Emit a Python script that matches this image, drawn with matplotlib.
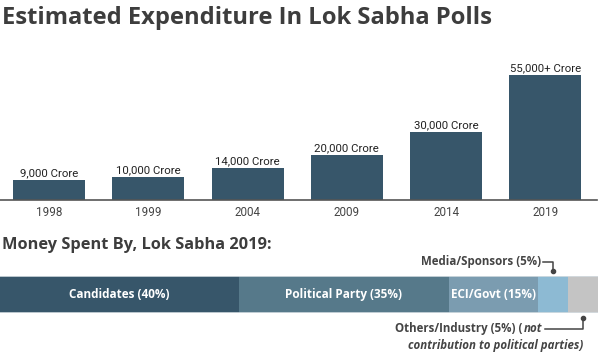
import matplotlib
matplotlib.use("Agg")
import matplotlib.pyplot as plt

# Data
years = ["1998", "1999", "2004", "2009", "2014", "2019"]
spend = [9000, 10000, 14000, 20000, 30000, 55000]
spend_labels = ["9,000 Crore", "10,000 Crore", "14,000 Crore", "20,000 Crore",
                "30,000 Crore", "55,000+ Crore"]

share_names = ["Candidates (40%)", "Political Party (35%)", "ECI/Govt (15%)", "", ""]
share_values = [40, 35, 15, 5, 5]
share_colors = ["#37566a", "#56798a", "#7b9cb0", "#8dbad3", "#c4c4c4"]

W, H = 600, 356
fig = plt.figure(figsize=(W / 100, H / 100), dpi=100)
fig.patch.set_facecolor("white")

def px_axes(x0, y0, x1, y1):
    return fig.add_axes([x0 / W, 1 - y1 / H, (x1 - x0) / W, (y1 - y0) / H])

TITLE_FONT = "Open Sans"
# Title
fig.text(2 / W, 1 - 18 / H, "Estimated Expenditure In Lok Sabha Polls",
         fontsize=17.1, fontweight="bold", family=TITLE_FONT, color="#3d3d3d",
         ha="left", va="center")

# Bar chart
ax = px_axes(0, 60, 597, 200)
xs = list(range(len(years)))
ax.bar(xs, spend, width=0.725, color="#37566a")
ymax = 55000 * 140 / 125
ax.set_ylim(0, ymax)
ax.set_xlim(-0.493, 5.52)
for x, v, lab in zip(xs, spend, spend_labels):
    ax.text(x, v + ymax * 0.012, lab, ha="center", va="bottom", fontsize=8.2,
            family="Roboto", color="#222222")
ax.set_xticks(xs)
ax.set_xticklabels(years, family="Roboto", fontsize=8.4, color="#444444")
ax.tick_params(axis="x", length=0, pad=4)
ax.set_yticks([])
for s in ["top", "right", "left"]:
    ax.spines[s].set_visible(False)
ax.spines["bottom"].set_color("#555555")
ax.spines["bottom"].set_linewidth(1.2)

# Section title
fig.text(2 / W, 1 - 245 / H, "Money Spent By, Lok Sabha 2019:",
         fontsize=11.8, fontweight="bold", family=TITLE_FONT, color="#3d3d3d",
         ha="left", va="center")

# Stacked bar
ax2 = px_axes(0, 276, 598, 313)
left = 0
for name, v, c in zip(share_names, share_values, share_colors):
    ax2.barh(0, v, left=left, height=1, color=c, edgecolor="none")
    if name:
        ax2.text(left + v / 2, 0, name, ha="center", va="center", color="white",
                 fontsize=8.5, fontweight="bold", family=TITLE_FONT)
    left += v
ax2.set_xlim(0, 100)
ax2.set_ylim(-0.5, 0.5)
ax2.axis("off")
ax2.axhline(0.5, color="#d5dde2", lw=1.2)
ax2.axhline(-0.5, color="#d5dde2", lw=1.2)

# Annotations (figure pixel coords)
ann = fig.add_axes([0, 0, 1, 1])
ann.set_xlim(0, W)
ann.set_ylim(H, 0)
ann.axis("off")
AFS = 8.3
ann.text(541, 262, "Media/Sponsors (5%)", ha="right", va="center", fontsize=AFS,
         fontweight="bold", family=TITLE_FONT, color="#444444")
ann.plot([543, 553, 553], [262, 262, 270], color="#444444", lw=1.1)
ann.plot([553], [270.5], "o", color="#444444", ms=3)

t_not = ann.text(542, 328.5, "not", ha="right", va="center", fontsize=AFS,
                 fontweight="bold", style="italic", family=TITLE_FONT,
                 color="#444444")
fig.canvas.draw()
bb = t_not.get_window_extent(fig.canvas.get_renderer())
x_not_left = bb.x0  # display pixels == figure pixels (dpi 100)
ann.text(x_not_left - 1, 328.5, "Others/Industry (5%) (", ha="right", va="center",
         fontsize=AFS, fontweight="bold", family=TITLE_FONT, color="#444444")
ann.text(583, 345, "contribution to political parties)", ha="right", va="center",
         fontsize=AFS, fontweight="bold", style="italic", family=TITLE_FONT,
         color="#444444")
ann.plot([545, 583, 583], [329, 329, 318], color="#444444", lw=1.1)
ann.plot([583], [318], "o", color="#444444", ms=3)

fig.savefig("out.png", dpi=100, facecolor="white")
